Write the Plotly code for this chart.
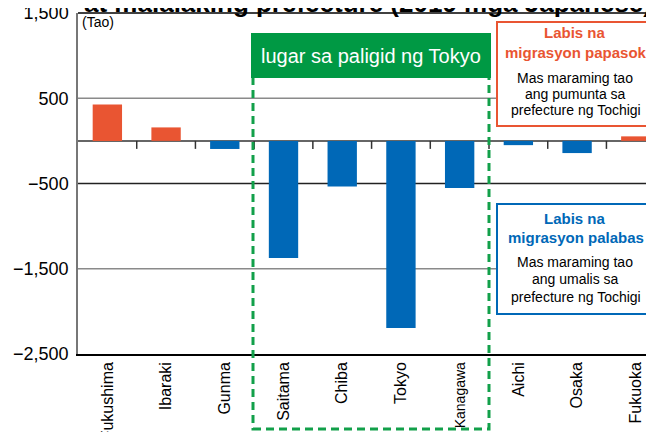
import plotly.graph_objects as go

prefectures = ["Fukushima", "Ibaraki", "Gunma", "Saitama", "Chiba", "Tokyo",
               "Kanagawa", "Aichi", "Osaka", "Fukuoka"]
net_migration = [428, 158, -95, -1375, -534, -2196, -553, -50, -143, 53]
ytick_vals = [1500, 500, -500, -1500, -2500]
ytick_text = ["1,500", "500", "\u2212500", "\u22121,500", "\u22122,500"]
xtick_text = ["Fukushima", "Ibaraki", "Gunma", "Saitama", "Chiba", "Tokyo",
              "<span style='font-size:14px'>Kanagawa</span>", "Aichi", "Osaka", "Fukuoka"]
title_text = "<b>at malalaking prefecture (2019 mga Japanese)</b>"

ORANGE = "#e95532"
BLUE = "#0068b7"
GREEN = "#009944"
FONT = "Liberation Sans, Arial, sans-serif"

# the page body adds an 8px margin, so the figure is drawn 8px in from the corner
OFF = 8
W, H = 654 - OFF, 432 - OFF
L, R, T, B = 78 - OFF, 0, 13 - OFF, 78
PW, PH = W - L - R, H - T - B


def px(x):  # screenshot x -> paper x
    return (x - OFF - L) / PW


def py(y):  # screenshot y -> paper y
    return (H - B - (y - OFF)) / PH


colors = [ORANGE if v > 0 else BLUE for v in net_migration]

fig = go.Figure(go.Bar(
    x=list(range(len(prefectures))), y=net_migration,
    marker=dict(color=colors, line=dict(width=0)), width=0.5,
))

shapes = []
grid = [(500, "#8a8a8a"), (0, "#333333"), (-500, "#222222"), (-1500, "#8a8a8a")]
for val, col in grid:
    shapes.append(dict(type="line", xref="paper", yref="y", x0=0, x1=1, y0=val, y1=val,
                       line=dict(color=col, width=1.5), layer="below"))
for i in range(len(prefectures) - 1):
    shapes.append(dict(type="line", xref="x", yref="y", x0=i + 0.5, x1=i + 0.5,
                       ysizemode="pixel", yanchor=0, y0=0, y1=-8,
                       line=dict(color="#333333", width=1.5)))
shapes.append(dict(type="rect", xref="paper", yref="paper",
                   x0=px(253), x1=px(489), y0=py(429), y1=py(60),
                   line=dict(color="#12a04a", width=3, dash="8px,5px")))
shapes.append(dict(type="rect", xref="paper", yref="paper",
                   x0=px(251), x1=px(491), y0=py(78), y1=py(33),
                   fillcolor=GREEN, line=dict(width=0)))
shapes.append(dict(type="rect", xref="paper", yref="paper",
                   x0=px(497), x1=px(652), y0=py(126), y1=py(22),
                   fillcolor="white", line=dict(color=ORANGE, width=2)))
shapes.append(dict(type="rect", xref="paper", yref="paper",
                   x0=px(497), x1=px(652), y0=py(314), y1=py(204),
                   fillcolor="white", line=dict(color=BLUE, width=2)))
# top frame line
shapes.append(dict(type="line", xref="paper", yref="paper", x0=0, x1=1,
                   y0=1, y1=1, line=dict(color="black", width=1.5)))

annotations = []


def txt(text, x, y, size, color="black", bold=False, xanchor="center"):
    if bold:
        text = "<b>" + text + "</b>"
    annotations.append(dict(text=text, x=px(x), y=py(y), xref="paper", yref="paper",
                            xanchor=xanchor, yanchor="middle", showarrow=False,
                            font=dict(size=size, color=color, family=FONT)))


txt("(Tao)", 80, 22, 14, xanchor="left")
txt("lugar sa paligid ng Tokyo", 371, 56, 20, color="white")
txt("Labis na", 575, 33, 15, color=ORANGE, bold=True)
txt("migrasyon papasok", 576, 52, 15, color=ORANGE, bold=True)
txt("Mas maraming tao", 575, 78, 14)
txt("ang pumunta sa", 575, 94, 14)
txt("prefecture ng Tochigi", 576, 110, 14)
txt("Labis na", 575, 218, 15, color=BLUE, bold=True)
txt("migrasyon palabas", 576, 237, 15, color=BLUE, bold=True)
txt("Mas maraming tao", 575, 262, 14)
txt("ang umalis sa", 575, 279, 14)
txt("prefecture ng Tochigi", 576, 297, 14)

fig.update_layout(
    width=W, height=H,
    margin=dict(l=L, r=R, t=T, b=B, pad=0, autoexpand=False),
    plot_bgcolor="white", paper_bgcolor="white",
    showlegend=False,
    font=dict(family=FONT, color="black"),
    shapes=shapes, annotations=annotations,
    title=dict(text=title_text, x=(368 - OFF) / W, xanchor="center", xref="container",
               y=1 - 4 / H, yanchor="bottom", yref="container",
               font=dict(size=26, color="black", family=FONT)),
)
fig.update_xaxes(
    range=[-0.5, 9.31], tickvals=list(range(len(prefectures))), ticktext=xtick_text,
    tickangle=-90, tickfont=dict(size=16, family=FONT, color="black"),
    showgrid=False, zeroline=False, showline=True, mirror=False,
    linecolor="black", linewidth=1.5, ticks="", automargin=False,
    ticklabeloverflow="allow",
)
fig.update_yaxes(
    range=[-2500, 1500], tickvals=ytick_vals, ticktext=ytick_text,
    tickfont=dict(size=18, family=FONT, color="black"),
    showgrid=False, zeroline=False, showline=True, linecolor="#777777", linewidth=1.5,
    ticks="", ticklabelstandoff=4, automargin=False,
    ticklabeloverflow="allow",
)

fig.write_html("out.html")
